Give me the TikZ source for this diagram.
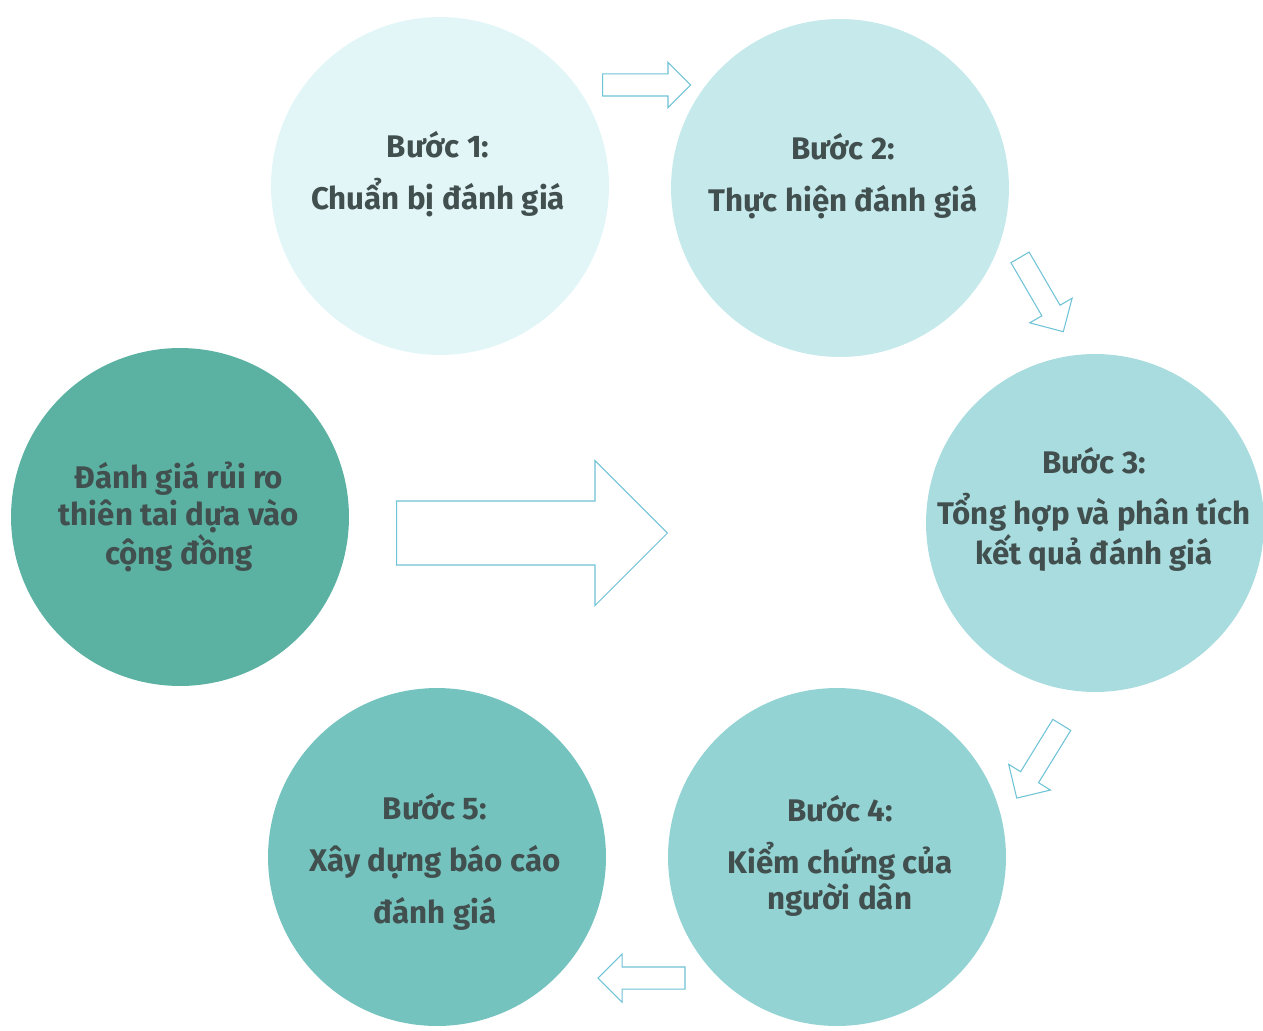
\documentclass[tikz,border=0pt]{standalone}
\usepackage{fontspec}
\setmainfont{Fira Sans}
\usepackage{xcolor}
\usetikzlibrary{shapes.arrows}

\definecolor{stepA}{HTML}{E2F6F8}
\definecolor{stepB}{HTML}{C6EAEC}
\definecolor{stepC}{HTML}{A9DCDE}
\definecolor{stepD}{HTML}{93D3D3}
\definecolor{stepE}{HTML}{74C3BF}
\definecolor{stepM}{HTML}{5BB2A2}
\definecolor{textgray}{HTML}{424F4F}
\definecolor{arrowline}{HTML}{6FC3D6}

\begin{document}
\begin{tikzpicture}[
    x=0.02cm, y=-0.02cm,
    stepnode/.style={circle, draw=none, minimum size=6.76cm, inner sep=0pt},
    steptext/.style={align=center, text=textgray, font=\fontsize{17.8}{21}\selectfont\bfseries},
    blockarrow/.style={single arrow, draw=arrowline, fill=white, line width=0.6pt,
        single arrow tip angle=90, single arrow head indent=0pt}
]

\useasboundingbox (0,0) rectangle (1263,1030);

\node[stepnode, fill=stepA] (s1) at (440,186) {};
\node[stepnode, fill=stepB] (s2) at (840,188) {};
\node[stepnode, fill=stepC] (s3) at (1095,523) {};
\node[stepnode, fill=stepD] (s4) at (837,857) {};
\node[stepnode, fill=stepE] (s5) at (437,857) {};
\node[stepnode, fill=stepM] (s0) at (180,517) {};

\node[steptext] (t1) at (438,174) {Bước 1:\\[8.5pt] Chuẩn bị đánh giá};
\node[steptext] (t2) at (843,176) {Bước 2:\\[8.5pt] Thực hiện đánh giá};
\node[steptext] (t3) at (1094,509) {Bước 3:\\[8.5pt] Tổng hợp và phân tích\\ kết quả đánh giá};
\node[steptext] (t4) at (840,856) {Bước 4:\\[8.5pt] Kiểm chứng của\\ người dân};
\node[steptext] (t5) at (435,862) {Bước 5:\\[8.5pt] Xây dựng báo cáo\\[8.5pt] đánh giá};
\node[steptext] (t0) at (179,517) {Đánh giá rủi ro\\ thiên tai dựa vào\\ cộng đồng};

% arrows between the steps
\node[blockarrow, minimum height=1.76cm, inner sep=0.21cm, single arrow head extend=0.23cm] (a12) at (641,85) {};
\node[blockarrow, rotate=-59.8, minimum height=1.72cm, inner sep=0.2cm, single arrow head extend=0.28cm] (a23) at (1039,290) {};
\node[blockarrow, rotate=-121.6, minimum height=1.72cm, inner sep=0.2cm, single arrow head extend=0.28cm] (a34) at (1042,757) {};
\node[blockarrow, rotate=180, minimum height=1.74cm, inner sep=0.21cm, single arrow head extend=0.26cm] (a45) at (647,978) {};

% big arrow from the main circle
\node[blockarrow, minimum height=5.42cm, inner sep=0.63cm, single arrow head extend=0.81cm] (a0) at (516,533) {};

\end{tikzpicture}
\end{document}
